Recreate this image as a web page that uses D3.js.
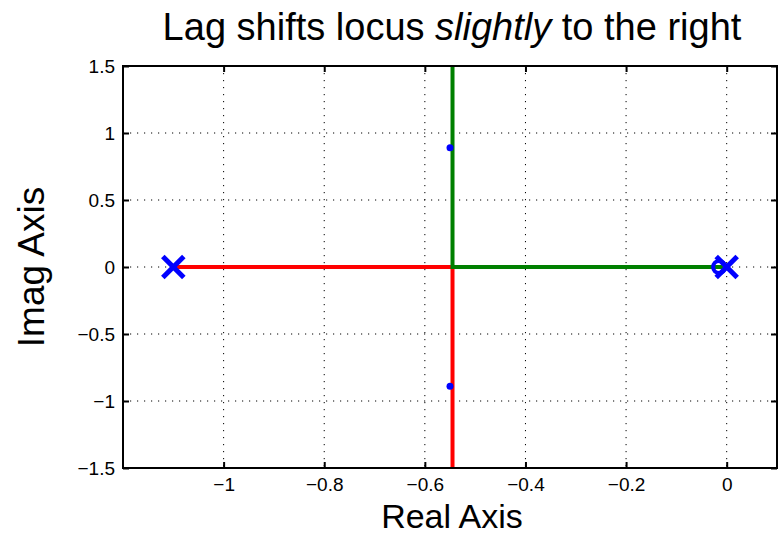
<!DOCTYPE html>
<html>
<head>
<meta charset="utf-8">
<script src="https://cdn.jsdelivr.net/npm/d3@7"></script>
<style>
  body { margin: 0; background: #fff; }
  svg { display: block; font-family: "Liberation Sans", Arial, Helvetica, sans-serif; }
</style>
</head>
<body>
<svg id="chart" width="778" height="535"></svg>
<script>
// Axis ticks
const xTicks = [-1, -0.8, -0.6, -0.4, -0.2, 0];
const yTicks = [-1.5, -1, -0.5, 0, 0.5, 1, 1.5];

// Root-locus branches (real, imag)
const redBranch = [[-1.1, 0], [-0.545, 0], [-0.545, -1.5]];
const greenBranch = [[0, 0], [-0.545, 0], [-0.545, 1.5]];

// Open-loop poles and zeros
const poles = [[-1.1, 0], [0, 0]];
const zeros = [[-0.015, 0]];

// Closed-loop roots at the selected gain
const roots = [[-0.55, 0.89], [-0.55, -0.89]];

const svg = d3.select("#chart");
const margin = { left: 123, right: 1, top: 66, bottom: 67 };
const W = 778, H = 535;

const x = d3.scaleLinear().domain([-1.2, 0.1]).range([margin.left, W - margin.right]);
const y = d3.scaleLinear().domain([-1.5, 1.5]).range([H - margin.bottom, margin.top]);

const fmt = v => (v < 0 ? "\u2212" : "") + Math.abs(v);

// Dotted grid
const grid = svg.append("g");
grid.selectAll(".gx").data(xTicks).enter().append("line")
  .attr("x1", d => x(d)).attr("x2", d => x(d))
  .attr("y1", y(1.5)).attr("y2", y(-1.5))
  .attr("stroke", "#000").attr("stroke-width", 1).attr("stroke-dasharray", "1.2,5.8");
grid.selectAll(".gy").data(yTicks).enter().append("line")
  .attr("y1", d => y(d)).attr("y2", d => y(d))
  .attr("x1", x(-1.2)).attr("x2", x(0.1))
  .attr("stroke", "#000").attr("stroke-width", 1).attr("stroke-dasharray", "1.2,5.8");

// Branches
const line = d3.line().x(d => x(d[0])).y(d => y(d[1]));
svg.append("path").datum(redBranch).attr("d", line)
  .attr("fill", "none").attr("stroke", "#ff0000").attr("stroke-width", 4);
svg.append("path").datum(greenBranch).attr("d", line)
  .attr("fill", "none").attr("stroke", "#008000").attr("stroke-width", 4);

// Axes with inward ticks on all four sides
const tickLen = 6;
svg.append("g").attr("transform", `translate(0,${y(-1.5)})`)
  .call(d3.axisBottom(x).tickValues(xTicks).tickSizeInner(-tickLen).tickSizeOuter(0).tickPadding(10).tickFormat(fmt));
svg.append("g").attr("transform", `translate(0,${y(1.5)})`)
  .call(d3.axisTop(x).tickValues(xTicks).tickSizeInner(-tickLen).tickSizeOuter(0).tickFormat(""));
svg.append("g").attr("transform", `translate(${x(-1.2)},0)`)
  .call(d3.axisLeft(y).tickValues(yTicks).tickSizeInner(-tickLen).tickSizeOuter(0).tickPadding(8).tickFormat(fmt));
svg.append("g").attr("transform", `translate(${x(0.1)},0)`)
  .call(d3.axisRight(y).tickValues(yTicks).tickSizeInner(-tickLen).tickSizeOuter(0).tickFormat(""));

svg.selectAll(".tick line").attr("stroke", "#000").attr("stroke-width", 2);
svg.selectAll(".domain").remove();
svg.selectAll(".tick text").attr("font-size", 19).attr("fill", "#000")
  .attr("font-family", "'Liberation Sans', Arial, sans-serif");

// Frame
svg.append("rect")
  .attr("x", x(-1.2)).attr("y", y(1.5))
  .attr("width", x(0.1) - x(-1.2)).attr("height", y(-1.5) - y(1.5))
  .attr("fill", "none").attr("stroke", "#000").attr("stroke-width", 2);

// Zeros (circles)
svg.selectAll(".zero").data(zeros).enter().append("circle")
  .attr("cx", d => x(d[0])).attr("cy", d => y(d[1])).attr("r", 6)
  .attr("fill", "none").attr("stroke", "#0000ff").attr("stroke-width", 4);

// Poles (crosses)
const s = 10.5;
const pg = svg.selectAll(".pole").data(poles).enter().append("g")
  .attr("transform", d => `translate(${x(d[0])},${y(d[1])})`);
pg.append("line").attr("x1", -s).attr("y1", -s).attr("x2", s).attr("y2", s)
  .attr("stroke", "#0000ff").attr("stroke-width", 5);
pg.append("line").attr("x1", -s).attr("y1", s).attr("x2", s).attr("y2", -s)
  .attr("stroke", "#0000ff").attr("stroke-width", 5);

// Closed-loop roots
svg.selectAll(".root").data(roots).enter().append("circle")
  .attr("cx", d => x(d[0])).attr("cy", d => y(d[1])).attr("r", 3.5)
  .attr("fill", "#0000ff");

// Title and axis labels
const title = svg.append("text")
  .attr("x", 452).attr("y", 40)
  .attr("text-anchor", "middle").attr("font-size", 38).attr("fill", "#000");
title.append("tspan").text("Lag shifts locus ");
title.append("tspan").attr("font-style", "italic").text("slightly");
title.append("tspan").text(" to the right");

svg.append("text")
  .attr("x", 452).attr("y", 527.5)
  .attr("text-anchor", "middle").attr("font-size", 34).attr("fill", "#000")
  .text("Real Axis");

svg.append("text")
  .attr("transform", `translate(44,${y(0)}) rotate(-90)`)
  .attr("text-anchor", "middle").attr("font-size", 37).attr("fill", "#000")
  .text("Imag Axis");
</script>
</body>
</html>
